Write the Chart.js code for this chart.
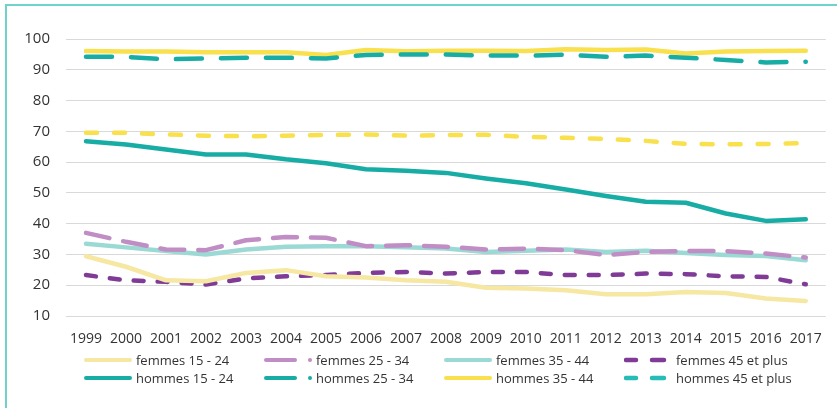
<!DOCTYPE html>
<html>
<head>
<meta charset="utf-8">
<script src="https://cdn.jsdelivr.net/npm/chart.js@4.4.1/dist/chart.umd.min.js"></script>
<style>
  html, body { margin: 0; padding: 0; background: #fff; }
  #wrap { position: relative; width: 837px; height: 408px; overflow: hidden; font-family: 'Open Sans', sans-serif; }
  #frameTop { position: absolute; left: 6px; top: 4px; width: 831px; height: 2px; background: #6fd3cc; }
  #frameLeft { position: absolute; left: 5px; top: 4px; width: 2px; height: 404px; background: #6fd3cc; }
  canvas { position: absolute; left: 0; top: 0; }
  #legend { position: absolute; left: 84px; top: 351px; width: 740px; }
  .row { display: flex; height: 18px; }
  .item { width: 180px; display: flex; align-items: center; font-size: 13px; color: #333; white-space: nowrap; }
  .item svg { width: 52px; height: 10px; flex: none; }
</style>
</head>
<body>
<div id="wrap">
  <canvas id="chart" width="837" height="408"></canvas>
  <div id="frameTop"></div>
  <div id="frameLeft"></div>
  <div id="legend"></div>
</div>
<script>
const years = ['1999','2000','2001','2002','2003','2004','2005','2006','2007','2008','2009','2010','2011','2012','2013','2014','2015','2016','2017'];
const yTicks = [10, 20, 30, 40, 50, 60, 70, 80, 90, 100];

const femmes1524 = [29.4, 26.0, 21.6, 21.3, 24.0, 24.9, 22.9, 22.5, 21.6, 21.1, 19.2, 18.9, 18.4, 17.1, 17.1, 17.8, 17.5, 15.7, 14.9];
const femmes2534 = [37.0, 34.1, 31.6, 31.4, 34.6, 35.7, 35.4, 32.7, 33.0, 32.5, 31.6, 31.9, 31.4, 29.8, 30.8, 31.1, 31.1, 30.3, 29.0];
const femmes3544 = [33.5, 32.3, 31.1, 30.0, 31.6, 32.5, 32.7, 32.7, 32.3, 31.9, 30.8, 31.2, 31.6, 30.8, 31.2, 30.5, 29.8, 29.5, 28.1];
const femmes45plus = [23.3, 21.6, 21.1, 20.2, 22.2, 22.9, 23.3, 24.0, 24.3, 23.8, 24.3, 24.3, 23.3, 23.3, 23.8, 23.6, 22.9, 22.7, 20.3];
const hommes1524 = [66.8, 65.7, 64.1, 62.5, 62.5, 60.9, 59.6, 57.7, 57.2, 56.5, 54.7, 53.1, 51.1, 49.0, 47.1, 46.8, 43.3, 40.9, 41.4];
const hommes2534 = [94.2, 94.2, 93.4, 93.7, 93.9, 93.9, 93.7, 94.8, 95.0, 95.0, 94.6, 94.6, 94.9, 94.2, 94.6, 93.9, 93.2, 92.4, 92.6];
const hommes3544 = [96.1, 95.9, 95.9, 95.7, 95.7, 95.7, 94.8, 96.4, 96.0, 96.2, 96.2, 96.1, 96.7, 96.4, 96.6, 95.3, 95.9, 96.1, 96.2];
const hommes45plus = [69.5, 69.5, 69.0, 68.6, 68.4, 68.6, 68.8, 69.0, 68.6, 68.8, 68.9, 68.2, 67.9, 67.5, 66.9, 65.9, 65.8, 65.9, 66.2];

const series = [
  { label: 'femmes 15 - 24', data: femmes1524, color: '#f6e7a3', dash: [], legendColor: '#f6e7a3', legend: 'solid' },
  { label: 'femmes 25 - 34', data: femmes2534, color: '#c08dc4', dash: [24, 14], legendColor: '#c08dc4', legend: 'dashdot' },
  { label: 'femmes 35 - 44', data: femmes3544, color: '#9bd9d4', dash: [], legendColor: '#9bd9d4', legend: 'solid' },
  { label: 'femmes 45 et plus', data: femmes45plus, color: '#7f3b96', dash: [10, 14], legendColor: '#7f3b96', legend: 'dash' },
  { label: 'hommes 15 - 24', data: hommes1524, color: '#17ada5', dash: [], legendColor: '#17ada5', legend: 'solid' },
  { label: 'hommes 25 - 34', data: hommes2534, color: '#17ada5', dash: [26, 19], legendColor: '#17ada5', legend: 'dashdot' },
  { label: 'hommes 35 - 44', data: hommes3544, color: '#f9e04d', dash: [], legendColor: '#f9e04d', legend: 'solid' },
  { label: 'hommes 45 et plus', data: hommes45plus, color: '#f9e04d', dash: [11, 17], legendColor: '#25bdb5', legend: 'dash' }
];

const datasets = series.map(s => ({
  label: s.label,
  data: s.data,
  borderColor: s.color,
  backgroundColor: s.color,
  borderWidth: 4.5,
  borderDash: s.dash,
  borderCapStyle: 'round',
  borderJoinStyle: 'round',
  pointRadius: 0,
  tension: 0,
  fill: false
}));

new Chart(document.getElementById('chart'), {
  type: 'line',
  data: { labels: years, datasets: datasets },
  options: {
    responsive: false,
    animation: false,
    layout: { padding: { top: 39, right: 8, left: 0, bottom: 0 } },
    plugins: { legend: { display: false }, tooltip: { enabled: false } },
    scales: {
      x: {
        offset: true,
        grid: { display: false, drawTicks: false },
        border: { display: false },
        ticks: { color: '#333', font: { family: 'Open Sans', size: 14 }, padding: 15, maxRotation: 0, autoSkip: false },
        afterFit: s => { s.height = 92; }
      },
      y: {
        min: 10,
        max: 100,
        afterBuildTicks: s => { s.ticks = yTicks.map(v => ({ value: v })); },
        grid: { color: '#d9d9d9', lineWidth: 1, drawTicks: false },
        border: { display: false },
        ticks: { color: '#333', font: { family: 'Open Sans', size: 15 }, padding: 16 },
        afterFit: s => { s.width = 66; }
      }
    }
  }
});

// legend, 4 columns x 2 rows
function marker(s) {
  const c = s.legendColor;
  if (s.legend === 'solid')
    return `<svg><line x1="2" y1="5" x2="46" y2="5" stroke="${c}" stroke-width="4" stroke-linecap="round"/></svg>`;
  if (s.legend === 'dashdot')
    return `<svg><line x1="2" y1="5" x2="31" y2="5" stroke="${c}" stroke-width="4" stroke-linecap="round"/><circle cx="46" cy="5" r="2" fill="${c}"/></svg>`;
  return `<svg><line x1="2" y1="5" x2="12" y2="5" stroke="${c}" stroke-width="4.5" stroke-linecap="round"/><line x1="28" y1="5" x2="40" y2="5" stroke="${c}" stroke-width="4.5" stroke-linecap="round"/></svg>`;
}
const legendEl = document.getElementById('legend');
for (let r = 0; r < 2; r++) {
  const row = document.createElement('div');
  row.className = 'row';
  for (let c = 0; c < 4; c++) {
    const s = series[r * 4 + c];
    const it = document.createElement('div');
    it.className = 'item';
    it.innerHTML = marker(s) + '<span>' + s.label + '</span>';
    row.appendChild(it);
  }
  legendEl.appendChild(row);
}
</script>
</body>
</html>
